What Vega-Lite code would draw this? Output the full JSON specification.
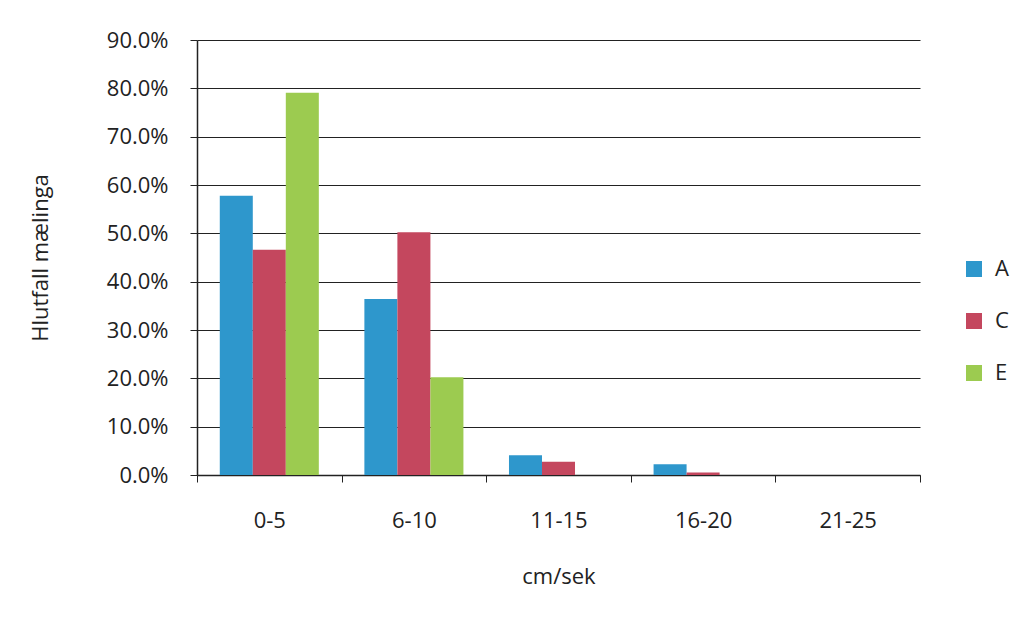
{
  "$schema": "https://vega.github.io/schema/vega-lite/v6.json",
  "width": 723,
  "height": 435,
  "autosize": {"type": "none"},
  "padding": {"left": 197, "top": 40, "right": 109, "bottom": 148},
  "background": "white",
  "config": {
    "font": "Open Sans",
    "view": {"stroke": null}
  },
  "data": {
    "values": [
      {"hradi": "0-5", "stod": "A", "hlutfall": 0.578},
      {"hradi": "0-5", "stod": "C", "hlutfall": 0.466},
      {"hradi": "0-5", "stod": "E", "hlutfall": 0.791},
      {"hradi": "6-10", "stod": "A", "hlutfall": 0.364},
      {"hradi": "6-10", "stod": "C", "hlutfall": 0.502},
      {"hradi": "6-10", "stod": "E", "hlutfall": 0.202},
      {"hradi": "11-15", "stod": "A", "hlutfall": 0.041},
      {"hradi": "11-15", "stod": "C", "hlutfall": 0.0275},
      {"hradi": "11-15", "stod": "E", "hlutfall": 0.0},
      {"hradi": "16-20", "stod": "A", "hlutfall": 0.022},
      {"hradi": "16-20", "stod": "C", "hlutfall": 0.005},
      {"hradi": "16-20", "stod": "E", "hlutfall": 0.0},
      {"hradi": "21-25", "stod": "A", "hlutfall": 0.0},
      {"hradi": "21-25", "stod": "C", "hlutfall": 0.0},
      {"hradi": "21-25", "stod": "E", "hlutfall": 0.0}
    ]
  },
  "mark": {"type": "bar"},
  "encoding": {
    "x": {
      "field": "hradi",
      "type": "nominal",
      "sort": ["0-5", "6-10", "11-15", "16-20", "21-25"],
      "scale": {"paddingInner": 0, "paddingOuter": 0},
      "axis": {"title": "cm/sek", "labelAngle": 0, "tickBand": "extent", "tickSize": 7, "labelPadding": 28, "titlePadding": 35, "grid": false, "domainWidth": 1.5, "domainColor": "#222222", "tickColor": "#222222", "labelColor": "#222222", "titleColor": "#222222", "labelFontSize": 22, "titleFontSize": 22, "titleFontWeight": "normal", "labelFont": "Open Sans", "titleFont": "Open Sans"}
    },
    "xOffset": {"field": "stod", "type": "nominal", "sort": ["A", "C", "E"], "scale": {"paddingInner": 0, "paddingOuter": 0.69}},
    "y": {
      "field": "hlutfall",
      "type": "quantitative",
      "scale": {"domain": [0, 0.9], "nice": false},
      "axis": {"title": "Hlutfall mælinga", "format": ".1%", "values": [0, 0.1, 0.2, 0.3, 0.4, 0.5, 0.6, 0.7, 0.8, 0.9], "tickSize": 7, "labelPadding": 22, "titlePadding": 54, "grid": true, "gridWidth": 1.2, "gridColor": "#222222", "gridOpacity": 1, "domainWidth": 1.5, "domainColor": "#222222", "tickColor": "#222222", "labelColor": "#222222", "titleColor": "#222222", "labelFontSize": 22, "titleFontSize": 22, "titleFontWeight": "normal", "labelFont": "Open Sans", "titleFont": "Open Sans"}
    },
    "color": {
      "field": "stod",
      "type": "nominal",
      "scale": {"domain": ["A", "C", "E"], "range": ["#2E97CC", "#C4475E", "#9CCB50"]},
      "legend": {"title": null, "orient": "none", "legendX": 766, "legendY": 218, "symbolType": "square", "symbolSize": 256, "symbolStrokeWidth": 0, "labelFontSize": 22, "labelFont": "Open Sans", "labelColor": "#222222", "rowPadding": 30, "labelOffset": 10}
    }
  }
}
